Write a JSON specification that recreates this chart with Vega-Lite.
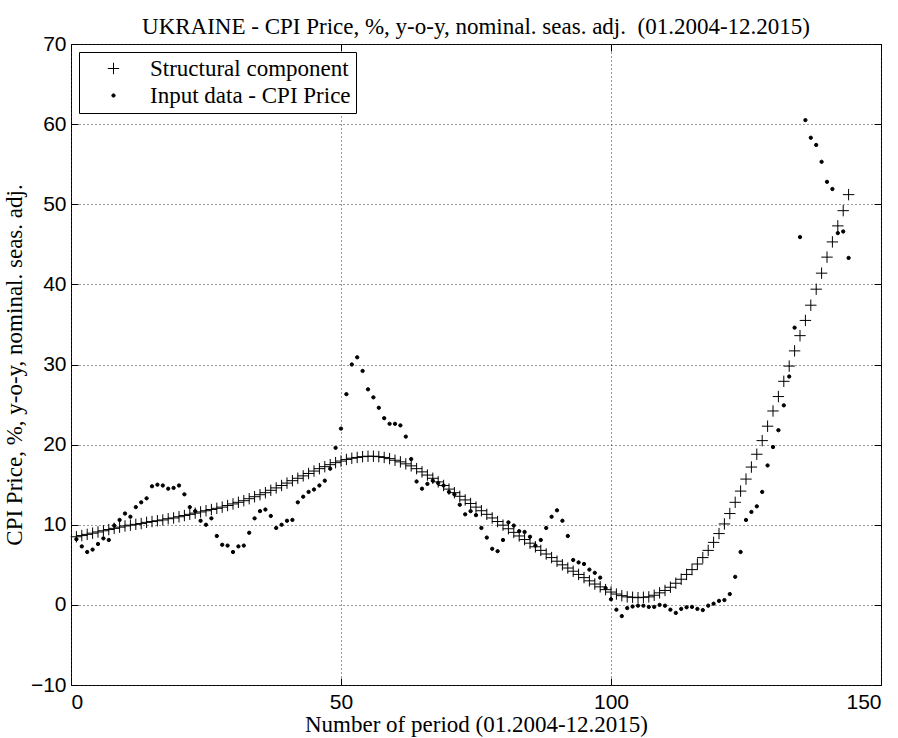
{
  "$schema": "https://vega.github.io/schema/vega-lite/v6.json",
  "width": 810,
  "height": 641,
  "autosize": "none",
  "padding": {"left": 71, "top": 44, "right": 17, "bottom": 53},
  "background": "white",
  "title": {"text": "UKRAINE - CPI Price, %, y-o-y, nominal. seas. adj.\u00a0 (01.2004-12.2015)", "font": "Liberation Serif", "fontSize": 23, "fontWeight": "normal", "color": "#000", "offset": -6},
  "config": {
    "view": {"stroke": "#000", "strokeWidth": 1},
    "axis": {"domain": false, "gridDash": [1, 3], "gridColor": "#333", "gridWidth": 1, "tickColor": "#000", "tickSize": -7, "labelFont": "Liberation Sans", "labelFontSize": 21, "labelColor": "#000", "titleFont": "Liberation Serif", "titleFontSize": 23, "titleFontWeight": "normal", "titleColor": "#000"},
    "legend": {"orient": "top-left", "offset": 8, "padding": 5, "strokeColor": "#000", "fillColor": "#fff", "labelFont": "Liberation Serif", "labelFontSize": 23, "labelLimit": 0, "labelColor": "#000", "symbolStrokeColor": "#000", "symbolStrokeWidth": 1, "symbolOffset": 18, "labelOffset": 25, "rowPadding": 3, "title": null}
  },
  "data": {"values": [
{"t":1,"Structural component":8.5,"Input data - CPI Price":8.2},
{"t":2,"Structural component":8.65,"Input data - CPI Price":7.3},
{"t":3,"Structural component":8.8,"Input data - CPI Price":6.6},
{"t":4,"Structural component":8.95,"Input data - CPI Price":6.9},
{"t":5,"Structural component":9.1,"Input data - CPI Price":7.6},
{"t":6,"Structural component":9.25,"Input data - CPI Price":8.3},
{"t":7,"Structural component":9.4,"Input data - CPI Price":8.1},
{"t":8,"Structural component":9.55,"Input data - CPI Price":9.9},
{"t":9,"Structural component":9.7,"Input data - CPI Price":10.6},
{"t":10,"Structural component":9.85,"Input data - CPI Price":11.4},
{"t":11,"Structural component":9.95,"Input data - CPI Price":11.0},
{"t":12,"Structural component":10.05,"Input data - CPI Price":12.2},
{"t":13,"Structural component":10.15,"Input data - CPI Price":12.8},
{"t":14,"Structural component":10.3,"Input data - CPI Price":13.3},
{"t":15,"Structural component":10.4,"Input data - CPI Price":14.8},
{"t":16,"Structural component":10.5,"Input data - CPI Price":15.0},
{"t":17,"Structural component":10.6,"Input data - CPI Price":14.9},
{"t":18,"Structural component":10.75,"Input data - CPI Price":14.5},
{"t":19,"Structural component":10.85,"Input data - CPI Price":14.6},
{"t":20,"Structural component":11.0,"Input data - CPI Price":14.9},
{"t":21,"Structural component":11.15,"Input data - CPI Price":13.8},
{"t":22,"Structural component":11.3,"Input data - CPI Price":12.2},
{"t":23,"Structural component":11.45,"Input data - CPI Price":11.7},
{"t":24,"Structural component":11.6,"Input data - CPI Price":10.5},
{"t":25,"Structural component":11.75,"Input data - CPI Price":10.0},
{"t":26,"Structural component":11.9,"Input data - CPI Price":10.8},
{"t":27,"Structural component":12.05,"Input data - CPI Price":8.6},
{"t":28,"Structural component":12.2,"Input data - CPI Price":7.5},
{"t":29,"Structural component":12.4,"Input data - CPI Price":7.4},
{"t":30,"Structural component":12.6,"Input data - CPI Price":6.6},
{"t":31,"Structural component":12.8,"Input data - CPI Price":7.3},
{"t":32,"Structural component":13.0,"Input data - CPI Price":7.4},
{"t":33,"Structural component":13.25,"Input data - CPI Price":9.0},
{"t":34,"Structural component":13.5,"Input data - CPI Price":10.8},
{"t":35,"Structural component":13.75,"Input data - CPI Price":11.7},
{"t":36,"Structural component":14.0,"Input data - CPI Price":11.9},
{"t":37,"Structural component":14.3,"Input data - CPI Price":11.1},
{"t":38,"Structural component":14.6,"Input data - CPI Price":9.6},
{"t":39,"Structural component":14.9,"Input data - CPI Price":10.0},
{"t":40,"Structural component":15.2,"Input data - CPI Price":10.5},
{"t":41,"Structural component":15.5,"Input data - CPI Price":10.6},
{"t":42,"Structural component":15.8,"Input data - CPI Price":12.8},
{"t":43,"Structural component":16.1,"Input data - CPI Price":13.5},
{"t":44,"Structural component":16.4,"Input data - CPI Price":14.1},
{"t":45,"Structural component":16.7,"Input data - CPI Price":14.4},
{"t":46,"Structural component":17.0,"Input data - CPI Price":14.9},
{"t":47,"Structural component":17.25,"Input data - CPI Price":15.5},
{"t":48,"Structural component":17.5,"Input data - CPI Price":17.0},
{"t":49,"Structural component":17.75,"Input data - CPI Price":19.6},
{"t":50,"Structural component":17.95,"Input data - CPI Price":22.0},
{"t":51,"Structural component":18.15,"Input data - CPI Price":26.3},
{"t":52,"Structural component":18.3,"Input data - CPI Price":30.0},
{"t":53,"Structural component":18.4,"Input data - CPI Price":30.9},
{"t":54,"Structural component":18.5,"Input data - CPI Price":29.2},
{"t":55,"Structural component":18.55,"Input data - CPI Price":26.9},
{"t":56,"Structural component":18.55,"Input data - CPI Price":25.9},
{"t":57,"Structural component":18.5,"Input data - CPI Price":24.6},
{"t":58,"Structural component":18.4,"Input data - CPI Price":23.3},
{"t":59,"Structural component":18.25,"Input data - CPI Price":22.6},
{"t":60,"Structural component":18.05,"Input data - CPI Price":22.6},
{"t":61,"Structural component":17.85,"Input data - CPI Price":22.4},
{"t":62,"Structural component":17.6,"Input data - CPI Price":21.0},
{"t":63,"Structural component":17.35,"Input data - CPI Price":18.2},
{"t":64,"Structural component":17.0,"Input data - CPI Price":15.4},
{"t":65,"Structural component":16.6,"Input data - CPI Price":14.5},
{"t":66,"Structural component":16.2,"Input data - CPI Price":15.1},
{"t":67,"Structural component":15.8,"Input data - CPI Price":15.5},
{"t":68,"Structural component":15.35,"Input data - CPI Price":15.2},
{"t":69,"Structural component":14.9,"Input data - CPI Price":14.9},
{"t":70,"Structural component":14.45,"Input data - CPI Price":14.1},
{"t":71,"Structural component":14.0,"Input data - CPI Price":13.8},
{"t":72,"Structural component":13.55,"Input data - CPI Price":12.5},
{"t":73,"Structural component":13.1,"Input data - CPI Price":11.3},
{"t":74,"Structural component":12.65,"Input data - CPI Price":11.7},
{"t":75,"Structural component":12.2,"Input data - CPI Price":11.2},
{"t":76,"Structural component":11.75,"Input data - CPI Price":9.6},
{"t":77,"Structural component":11.3,"Input data - CPI Price":8.4},
{"t":78,"Structural component":10.85,"Input data - CPI Price":7.0},
{"t":79,"Structural component":10.4,"Input data - CPI Price":6.7},
{"t":80,"Structural component":9.95,"Input data - CPI Price":8.1},
{"t":81,"Structural component":9.5,"Input data - CPI Price":10.3},
{"t":82,"Structural component":9.05,"Input data - CPI Price":9.9},
{"t":83,"Structural component":8.6,"Input data - CPI Price":9.2},
{"t":84,"Structural component":8.15,"Input data - CPI Price":9.1},
{"t":85,"Structural component":7.7,"Input data - CPI Price":8.5},
{"t":86,"Structural component":7.25,"Input data - CPI Price":7.4},
{"t":87,"Structural component":6.8,"Input data - CPI Price":8.1},
{"t":88,"Structural component":6.35,"Input data - CPI Price":9.6},
{"t":89,"Structural component":5.9,"Input data - CPI Price":11.0},
{"t":90,"Structural component":5.45,"Input data - CPI Price":11.8},
{"t":91,"Structural component":5.0,"Input data - CPI Price":10.5},
{"t":92,"Structural component":4.6,"Input data - CPI Price":8.6},
{"t":93,"Structural component":4.2,"Input data - CPI Price":5.6},
{"t":94,"Structural component":3.8,"Input data - CPI Price":5.3},
{"t":95,"Structural component":3.4,"Input data - CPI Price":5.1},
{"t":96,"Structural component":3.0,"Input data - CPI Price":4.4},
{"t":97,"Structural component":2.6,"Input data - CPI Price":4.0},
{"t":98,"Structural component":2.25,"Input data - CPI Price":3.4},
{"t":99,"Structural component":1.9,"Input data - CPI Price":2.1},
{"t":100,"Structural component":1.6,"Input data - CPI Price":0.7},
{"t":101,"Structural component":1.35,"Input data - CPI Price":-0.6},
{"t":102,"Structural component":1.15,"Input data - CPI Price":-1.4},
{"t":103,"Structural component":1.0,"Input data - CPI Price":-0.4},
{"t":104,"Structural component":0.95,"Input data - CPI Price":-0.2},
{"t":105,"Structural component":0.9,"Input data - CPI Price":-0.1},
{"t":106,"Structural component":0.95,"Input data - CPI Price":-0.1},
{"t":107,"Structural component":1.0,"Input data - CPI Price":-0.25},
{"t":108,"Structural component":1.2,"Input data - CPI Price":-0.25},
{"t":109,"Structural component":1.5,"Input data - CPI Price":0.0},
{"t":110,"Structural component":1.8,"Input data - CPI Price":-0.1},
{"t":111,"Structural component":2.2,"Input data - CPI Price":-0.6},
{"t":112,"Structural component":2.7,"Input data - CPI Price":-1.0},
{"t":113,"Structural component":3.2,"Input data - CPI Price":-0.5},
{"t":114,"Structural component":3.8,"Input data - CPI Price":-0.3},
{"t":115,"Structural component":4.4,"Input data - CPI Price":-0.25},
{"t":116,"Structural component":5.1,"Input data - CPI Price":-0.5},
{"t":117,"Structural component":5.9,"Input data - CPI Price":-0.65},
{"t":118,"Structural component":6.8,"Input data - CPI Price":-0.1},
{"t":119,"Structural component":7.8,"Input data - CPI Price":0.15},
{"t":120,"Structural component":8.9,"Input data - CPI Price":0.5},
{"t":121,"Structural component":10.1,"Input data - CPI Price":0.6},
{"t":122,"Structural component":11.4,"Input data - CPI Price":1.35},
{"t":123,"Structural component":12.8,"Input data - CPI Price":3.5},
{"t":124,"Structural component":14.2,"Input data - CPI Price":6.6},
{"t":125,"Structural component":15.7,"Input data - CPI Price":10.6},
{"t":126,"Structural component":17.2,"Input data - CPI Price":11.6},
{"t":127,"Structural component":18.8,"Input data - CPI Price":12.3},
{"t":128,"Structural component":20.5,"Input data - CPI Price":14.1},
{"t":129,"Structural component":22.3,"Input data - CPI Price":17.4},
{"t":130,"Structural component":24.2,"Input data - CPI Price":19.7},
{"t":131,"Structural component":26.0,"Input data - CPI Price":21.8},
{"t":132,"Structural component":27.9,"Input data - CPI Price":24.9},
{"t":133,"Structural component":29.8,"Input data - CPI Price":28.5},
{"t":134,"Structural component":31.7,"Input data - CPI Price":34.6},
{"t":135,"Structural component":33.6,"Input data - CPI Price":45.9},
{"t":136,"Structural component":35.5,"Input data - CPI Price":60.5},
{"t":137,"Structural component":37.4,"Input data - CPI Price":58.3},
{"t":138,"Structural component":39.4,"Input data - CPI Price":57.4},
{"t":139,"Structural component":41.4,"Input data - CPI Price":55.3},
{"t":140,"Structural component":43.4,"Input data - CPI Price":52.8},
{"t":141,"Structural component":45.3,"Input data - CPI Price":51.9},
{"t":142,"Structural component":47.3,"Input data - CPI Price":46.4},
{"t":143,"Structural component":49.2,"Input data - CPI Price":46.6},
{"t":144,"Structural component":51.2,"Input data - CPI Price":43.3}
  ]},
  "transform": [{"fold": ["Structural component", "Input data - CPI Price"], "as": ["series", "value"]}],
  "layer": [
    {
      "mark": {"type": "point", "filled": false, "fill": "#000", "strokeWidth": 1, "opacity": 1},
      "encoding": {
        "x": {"field": "t", "type": "quantitative", "scale": {"domain": [0, 150], "nice": false, "zero": false}, "axis": {"values": [0, 50, 100, 150], "grid": true, "title": "Number of period (01.2004-12.2015)", "labelPadding": 13, "titlePadding": 1}},
        "y": {"field": "value", "type": "quantitative", "scale": {"domain": [-10, 70], "nice": false, "zero": false}, "axis": {"values": [-10, 0, 10, 20, 30, 40, 50, 60, 70], "grid": true, "title": "CPI Price, %, y-o-y, nominal. seas. adj.", "labelPadding": 12, "titlePadding": 4}},
        "color": {"field": "series", "type": "nominal", "sort": ["Structural component", "Input data - CPI Price"], "scale": {"domain": ["Structural component", "Input data - CPI Price"], "range": ["#000", "#000"]}, "legend": {"title": null}},
        "shape": {"field": "series", "type": "nominal", "sort": ["Structural component", "Input data - CPI Price"], "scale": {"domain": ["Structural component", "Input data - CPI Price"], "range": ["M-1,0L1,0M0,-1L0,1", "circle"]}, "legend": {"title": null}},
        "size": {"field": "series", "type": "nominal", "sort": ["Structural component", "Input data - CPI Price"], "scale": {"domain": ["Structural component", "Input data - CPI Price"], "range": [130, 11]}, "legend": {"title": null}}
      }
    },
    {
      "mark": {"type": "point", "opacity": 0},
      "encoding": {
        "x": {"field": "t", "type": "quantitative", "scale": {"domain": [0, 150], "nice": false, "zero": false}, "axis": {"orient": "top", "values": [0, 50, 100, 150], "grid": false, "labels": false, "title": null}},
        "y": {"field": "value", "type": "quantitative", "scale": {"domain": [-10, 70], "nice": false, "zero": false}, "axis": {"orient": "right", "values": [-10, 0, 10, 20, 30, 40, 50, 60, 70], "grid": false, "labels": false, "title": null}}
      }
    }
  ],
  "resolve": {"axis": {"x": "independent", "y": "independent"}}
}
